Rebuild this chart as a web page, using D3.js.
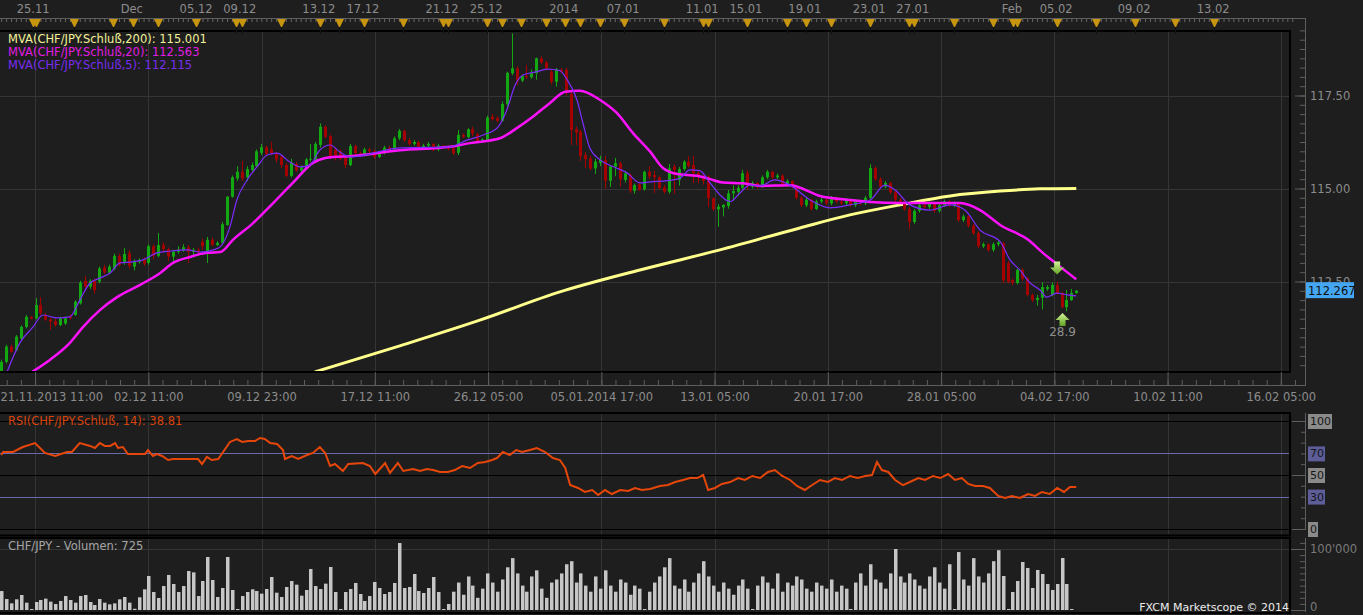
<!DOCTYPE html>
<html><head><meta charset="utf-8">
<script src="https://cdn.jsdelivr.net/npm/d3@7"></script>
<style>
html,body{margin:0;padding:0;background:#1e1e1e;overflow:hidden}
svg{display:block}
text{font-family:"DejaVu Sans",sans-serif}
</style></head><body>
<svg id="c" width="1363" height="615"></svg>
<script>
// ---------------- DATA ----------------
// candles [open, high, low, close], 6-hour bars
const ohlc = [
[110.08,110.40,110.00,110.34],[110.34,110.80,110.30,110.75],[110.75,110.80,110.58,110.61],[110.66,111.06,110.62,111.02],
[110.97,111.32,110.93,111.28],[111.28,111.60,111.24,111.55],[111.55,111.57,111.48,111.50],[111.51,112.05,111.48,111.87],
[111.87,112.08,111.60,111.65],[111.60,111.66,111.44,111.48],[111.48,111.52,111.20,111.42],[111.44,111.50,111.28,111.33],
[111.33,111.55,111.30,111.51],[111.37,111.56,111.33,111.51],[111.55,111.62,111.48,111.51],[111.60,112.00,111.58,111.96],
[111.91,112.52,111.88,112.47],[112.52,112.65,112.30,112.36],[112.36,112.56,112.30,112.52],[112.52,112.58,112.18,112.27],
[112.50,112.90,112.45,112.85],[112.88,112.95,112.70,112.74],[112.74,112.95,112.70,112.90],[112.85,113.25,112.80,113.19],
[113.19,113.25,112.90,112.94],[113.00,113.40,112.95,113.24],[113.26,113.35,112.85,112.92],[112.90,113.10,112.80,113.03],
[113.03,113.12,112.98,113.06],[113.08,113.15,112.92,112.98],[113.00,113.50,112.95,113.45],[113.45,113.50,113.10,113.19],
[113.19,113.80,113.15,113.48],[113.48,113.55,113.30,113.37],[113.37,113.42,113.05,113.17],[113.17,113.35,113.00,113.30],
[113.30,113.45,113.25,113.35],[113.35,113.50,113.30,113.42],[113.42,113.48,113.00,113.30],[113.30,113.40,113.15,113.35],
[113.35,113.42,113.20,113.30],[113.57,113.65,113.35,113.44],[113.26,113.70,113.00,113.62],[113.62,113.68,113.45,113.48],
[113.48,113.58,113.45,113.54],[113.54,114.10,113.50,114.04],[114.02,114.80,114.00,114.78],[114.78,115.35,114.75,115.30],
[115.27,115.60,115.20,115.45],[115.45,115.75,115.20,115.27],[115.30,115.60,115.20,115.52],[115.50,115.70,115.45,115.63],
[115.60,116.05,115.55,116.00],[115.96,116.20,115.90,116.11],[116.11,116.15,115.88,115.93],[116.05,116.25,115.90,115.95],
[115.93,115.98,115.70,115.78],[115.85,115.90,115.55,115.63],[115.63,115.68,115.30,115.34],[115.34,115.80,115.30,115.70],
[115.66,115.72,115.45,115.48],[115.48,115.62,115.40,115.57],[115.54,115.82,115.50,115.78],[115.78,116.20,115.72,115.80],
[115.77,116.25,115.72,116.20],[116.17,116.75,116.10,116.66],[116.66,116.70,116.35,116.39],[116.41,116.45,115.80,115.84],
[116.05,116.10,115.75,115.85],[116.00,116.05,115.75,115.80],[115.85,115.90,115.55,115.63],[115.63,116.20,115.60,116.14],
[116.14,116.18,115.90,115.95],[115.95,116.00,115.85,115.90],[115.90,116.10,115.86,116.05],[116.05,116.10,115.95,116.00],
[116.00,116.05,115.80,115.85],[115.85,116.00,115.82,115.95],[115.95,116.15,115.92,116.10],[116.10,116.15,116.00,116.05],
[116.05,116.40,116.02,116.35],[116.35,116.60,116.30,116.55],[116.55,116.58,116.25,116.30],[116.30,116.35,116.15,116.20],
[116.20,116.30,116.15,116.25],[116.25,116.28,116.05,116.10],[116.10,116.20,116.05,116.15],[116.15,116.25,116.10,116.20],
[116.20,116.22,116.00,116.05],[116.05,116.20,116.00,116.15],[116.15,116.17,116.08,116.10],[116.10,116.15,116.02,116.08],
[116.08,116.12,115.90,115.95],[115.96,116.57,115.90,116.44],[116.44,116.48,116.35,116.39],[116.38,116.62,116.35,116.59],
[116.59,116.66,116.40,116.48],[116.46,116.50,116.22,116.28],[116.28,116.36,116.24,116.32],[116.30,116.96,116.28,116.91],
[116.93,117.00,116.82,116.86],[116.89,116.95,116.78,116.82],[116.82,117.34,116.80,117.27],[117.27,118.14,117.20,118.11],
[118.10,119.17,118.05,118.23],[118.23,118.29,117.78,117.90],[117.90,118.06,117.86,118.02],[118.02,118.32,117.95,117.99],
[117.99,118.20,117.95,118.10],[118.10,118.52,117.92,118.50],[118.50,118.55,118.35,118.39],[118.39,118.42,118.18,118.23],
[118.14,118.21,117.80,117.87],[117.87,118.24,117.74,118.20],[118.19,118.24,118.10,118.14],[118.19,118.24,117.50,117.60],
[117.54,117.60,116.17,116.57],[116.60,116.67,116.17,116.50],[116.53,116.58,115.74,115.87],[115.90,115.98,115.55,115.79],
[115.81,115.88,115.49,115.54],[115.54,115.80,115.39,115.72],[115.69,115.88,115.60,115.77],[115.77,115.88,115.00,115.21],
[115.21,115.63,115.04,115.59],[115.59,115.82,115.33,115.68],[115.68,115.72,115.05,115.25],[115.23,115.46,115.16,115.41],
[115.36,115.40,114.88,114.94],[114.94,115.13,114.86,115.09],[115.12,115.16,114.94,114.96],[114.98,115.48,114.94,115.45],
[115.45,115.60,115.25,115.32],[115.36,115.48,114.88,115.30],[115.30,115.35,114.98,115.01],[115.03,115.10,114.86,114.91],
[114.91,115.66,114.86,115.54],[115.59,115.65,114.86,115.50],[115.23,115.58,115.08,115.52],[115.52,115.76,115.48,115.72],
[115.72,115.86,115.56,115.60],[115.63,115.88,115.14,115.41],[115.42,115.50,115.14,115.32],[115.32,115.38,115.10,115.21],
[115.32,115.36,114.50,114.74],[114.74,114.76,114.40,114.44],[114.44,114.58,113.97,114.51],[114.49,114.58,114.25,114.56],
[114.53,114.96,114.46,114.87],[114.87,115.08,114.68,114.93],[114.91,115.09,114.80,115.02],[115.02,115.50,114.97,115.41],
[115.41,115.50,114.97,115.05],[115.05,115.20,115.00,115.15],[115.15,115.18,115.00,115.05],[115.05,115.35,115.02,115.30],
[115.30,115.50,115.25,115.45],[115.45,115.48,115.25,115.30],[115.30,115.40,115.25,115.35],[115.35,115.38,115.05,115.10],
[115.10,115.25,115.05,115.20],[115.20,115.22,115.00,115.05],[115.05,115.08,114.70,114.75],[114.75,114.80,114.50,114.55],
[114.55,114.75,114.50,114.70],[114.70,114.72,114.40,114.45],[114.45,114.70,114.42,114.65],[114.65,114.75,114.60,114.70],
[114.70,114.72,114.55,114.60],[114.60,114.80,114.55,114.75],[114.75,114.78,114.60,114.65],[114.65,114.70,114.55,114.60],
[114.60,114.75,114.55,114.70],[114.70,114.72,114.50,114.55],[114.55,114.70,114.50,114.65],[114.65,114.68,114.55,114.60],
[114.60,114.80,114.55,114.75],[114.75,115.65,114.72,115.55],[115.55,115.60,115.20,115.25],[115.25,115.30,115.00,115.05],
[115.05,115.20,115.00,115.15],[115.15,115.18,114.85,114.90],[114.90,114.95,114.65,114.70],[114.70,114.75,114.60,114.65],
[114.65,114.70,114.40,114.45],[114.45,114.50,113.90,114.10],[114.10,114.45,114.05,114.40],[114.40,114.60,114.35,114.55],
[114.55,114.58,114.45,114.50],[114.50,114.65,114.45,114.60],[114.60,114.62,114.35,114.40],[114.40,114.60,114.35,114.55],
[114.55,114.70,114.50,114.65],[114.65,114.68,114.50,114.55],[114.55,114.65,114.50,114.60],[114.60,114.62,114.10,114.15],
[114.15,114.30,114.10,114.25],[114.25,114.28,113.95,114.00],[114.00,114.05,113.75,113.80],[113.80,113.85,113.40,113.45],
[113.45,113.55,113.40,113.50],[113.50,113.52,113.30,113.35],[113.35,113.55,113.30,113.50],[113.50,113.60,113.45,113.55],
[113.53,113.56,112.45,112.53],[113.00,113.05,112.45,112.49],[112.54,112.58,112.40,112.46],[112.46,112.85,112.42,112.81],
[112.81,112.86,112.52,112.57],[112.59,112.62,112.10,112.14],[112.14,112.18,111.95,112.00],[112.00,112.14,111.85,112.06],
[112.06,112.48,111.75,112.35],[112.30,112.40,112.25,112.35],[112.14,112.48,112.10,112.41],[112.41,112.50,112.15,112.19],
[112.19,112.22,111.78,111.81],[111.81,112.27,111.70,112.00],[112.00,112.30,111.98,112.19],[112.19,112.27,112.17,112.25]
];
// volume per bar (units)
const volume = [
31100,18000,10900,17500,24600,12000,1000,13100,16400,18600,13700,9800,14800,22900,16400,12000,22900,24600,13100,8200,
18000,12000,9300,10900,17500,21300,12000,2000,20800,33900,55700,29500,19700,39300,57400,42600,29500,39300,63900,61700,
22900,47500,86900,49200,21300,36100,86900,32800,1500,22900,29500,33900,31100,26800,34400,54100,28400,21300,37700,47500,
41500,23500,32800,67200,39300,34400,43200,70500,29500,1500,29500,34400,44300,26200,14800,22900,45900,36100,26200,29500,
44300,109800,36100,37700,59000,31100,27900,36100,54100,29500,1500,9800,
30000,45000,25000,55000,40000,20000,35000,60000,45000,30000,50000,70000,85000,60000,40000,30000,55000,65000,35000,
20000,45000,50000,60000,75000,80000,45000,60000,40000,30000,55000,35000,65000,40000,30000,50000,45000,25000,40000,35000,
1500,30000,45000,55000,70000,85000,40000,35000,50000,30000,45000,60000,80000,55000,40000,30000,45000,35000,25000,40000,
50000,35000,1500,40000,55000,45000,35000,60000,30000,45000,40000,55000,50000,35000,30000,45000,40000,35000,50000,30000,
40000,35000,1500,45000,60000,40000,75000,50000,45000,35000,60000,100000,55000,45000,60000,50000,40000,35000,55000,70000,
45000,35000,75000,1500,95000,50000,40000,85000,55000,45000,60000,80000,
98000,55700,1500,29500,47500,78700,68900,36100,65600,59000,42600,32800,42600,85200,42600,725
];
// moving averages [bar index, value]
const ma200 = [[63.9,110.07],[81.2,110.77],[97.5,111.46],[113.8,112.22],[130.1,112.81],[146.4,113.35],[162.7,113.94],
[172.9,114.29],[183.1,114.56],[193.3,114.80],[203.5,114.93],[211.6,114.99],[219,115.00]];
const ma20 = [[6.3,110.07],[9.9,110.39],[14,110.85],[16.7,111.28],[20.1,111.73],[23.6,112.08],[28.3,112.41],[32.4,112.73],
[35,113.0],[38.5,113.16],[41.9,113.27],[44.6,113.29],[47.2,113.62],[51.3,114.07],[55.4,114.61],[59.4,115.15],[63.5,115.69],
[66,115.82],[67.6,115.85],[71.1,115.87],[81.2,116.03],[91.4,116.12],[95.5,116.22],[101.6,116.35],[105.1,116.63],[108.3,116.93],
[111.8,117.30],[114.9,117.60],[117.9,117.63],[122,117.38],[125.4,117.03],[128.7,116.49],[132.2,115.99],[134.8,115.55],
[137.7,115.39],[141.7,115.34],[145,115.23],[147,115.16],[151.1,115.14],[154.6,115.07],[160.7,115.09],[166.8,114.80],
[172.9,114.69],[177,114.64],[183.1,114.61],[189.2,114.61],[195.3,114.61],[199.4,114.42],[203.5,114.02],[209.2,113.62],
[212.2,113.27],[215.3,112.94],[219,112.56]];
const ma5 = [[1.2,110.07],[3.8,110.85],[6.5,111.28],[8.5,111.60],[11.4,111.52],[14,111.55],[16,112.0],[18.1,112.46],
[20.1,112.59],[22.2,112.73],[24.2,113.0],[26.2,113.02],[28.9,113.08],[31.7,113.27],[34.4,113.32],[37.9,113.35],[40.5,113.29],
[43.2,113.35],[44.6,113.43],[46.6,113.97],[48,114.69],[50.1,115.23],[52.1,115.58],[54.2,115.90],[56.2,115.95],[58.8,115.71],
[60.9,115.58],[62.9,115.63],[64.9,116.03],[67,116.17],[69,115.98],[71.1,115.85],[81.2,116.09],[91.4,116.12],[94.9,116.30],
[98.2,116.44],[101.2,116.65],[103,117.11],[104.7,117.78],[106.3,118.05],[109.1,118.14],[111.2,118.21],[113.8,118.17],
[115.3,117.92],[117.3,117.38],[118.5,116.76],[119.9,116.09],[122,115.77],[124.6,115.59],[127.5,115.42],[130.1,115.15],
[132.2,115.18],[135.6,115.21],[138.3,115.28],[140.3,115.50],[142.3,115.48],[144.4,115.15],[146.4,114.83],[148.5,114.65],
[150.5,114.88],[152.5,115.09],[154.6,115.07],[157.6,115.23],[160.7,115.09],[164.8,114.69],[168.8,114.48],[172.9,114.56],
[177,114.69],[180,115.09],[182.1,114.96],[185.1,114.56],[189.2,114.42],[193.3,114.56],[196.3,114.42],[199.4,113.88],
[203.5,113.57],[205.5,113.08],[207.5,112.81],[209.6,112.46],[211.6,112.27],[213,112.08],[215.1,112.19],[217.1,112.14],[219,112.115]];
// RSI(14) [bar index, value]
const rsi = [[0,68.5],[0.4,71.3],[2.4,71.3],[4.4,75.9],[6.9,79.6],[8.9,70.4],[11,67.6],[13.4,71.3],[14.4,71.3],[16,79.6],
[18.1,76.9],[19.1,75.0],[20.1,79.6],[21.1,76.9],[22.2,76.9],[23.2,79.6],[23.8,75.0],[24.8,75.9],[25.8,69.4],[27.9,69.4],
[29.3,69.4],[29.9,73.1],[30.9,67.6],[31.7,69.4],[32.8,67.6],[34,63.9],[35,64.8],[37.9,64.8],[40.1,64.8],[40.9,60.2],
[41.9,66.7],[42.9,63.9],[44.2,64.8],[45.2,71.3],[46.6,80.6],[48,83.3],[49.1,80.6],[50.3,81.5],[51.7,81.5],[52.7,84.3],
[53.7,83.3],[54.8,79.6],[56.2,78.7],[57.4,73.1],[57.8,64.8],[59.2,67.6],[60.5,64.8],[62.3,68.5],[63.5,70.4],[64.9,75.9],
[66,70.4],[67,58.3],[68,60.2],[69.6,53.7],[70.7,60.2],[73.7,61.1],[75.1,58.3],[76.2,50.9],[78.2,61.1],[79.2,51.9],
[80.8,61.1],[81.9,53.7],[83.9,55.6],[85.3,53.7],[86.7,55.6],[88,54.6],[89.4,52.8],[91,52.8],
[92.4,54.6],[93.9,58.3],[95.5,56.5],[97.1,61.1],[98.6,62.0],[100,63.9],[101,65.7],[102.2,71.3],[103.6,68.5],[104.9,73.1],
[106.1,71.3],[107.7,73.1],[109.1,75.0],[110.8,71.3],[112.4,65.7],[113.8,63.9],[114.9,56.5],[115.9,40.7],[117.5,38.0],
[118.9,34.3],[120.4,36.1],[121.6,31.5],[123,36.1],[124.4,32.4],[126.1,36.1],[127.7,35.2],[129.1,38.0],[130.5,36.1],
[132.2,37.0],[134.2,39.8],[135.8,40.7],[137.3,43.5],[138.9,45.4],[140.3,47.2],[141.8,47.2],[143,50.0],[144,36.1],
[145.4,38.0],[146.8,41.7],[148.5,43.5],[150.1,47.2],[151.5,45.4],[153,49.1],[154.6,47.2],[156.2,52.8],[157.6,54.6],
[159.1,49.1],[160.7,45.4],[162.1,39.8],[163.7,36.1],[165.2,40.7],[166.8,45.4],[168.4,43.5],[169.8,47.2],[171.3,45.4],
[172.9,49.1],[174.5,47.2],[176,49.1],[177.4,50.0],[178.4,62.0],[179.4,54.6],[180.7,52.8],[182.1,45.4],[183.7,40.7],
[185.1,43.5],[186.8,47.2],[188.2,45.4],[189.8,49.1],[191.3,47.2],[192.9,50.9],[194.3,45.4],[195.7,47.2],[197,41.7],
[198.4,39.8],[200,39.8],[201.4,38.0],[203.1,30.6],[204.5,28.7],[205.9,30.6],[207.5,28.7],[209.2,32.4],[210.6,30.6],
[212,34.3],[213.6,32.4],[215.1,38.0],[216.5,34.3],[217.7,38.9],[219,38.81]];
// axes / labels
const priceTicks = [112.5, 115, 117.5];
const rsiTicks = [100, 70, 50, 30, 0];
const volTicks = [0, 100000];
const bottomLabels = ["21.11.2013 11:00","02.12 11:00","09.12 23:00","17.12 11:00","26.12 05:00","05.01.2014 17:00",
  "13.01 05:00","20.01 17:00","28.01 05:00","04.02 17:00","10.02 11:00","16.02 05:00"];
const gridIdx = [6.9,29.97,53.04,76.11,99.18,122.25,145.32,168.39,191.46,214.53,237.6,260.67];
const topLabels = ["25.11","Dec","05.12","09.12","13.12","17.12","21.12","25.12","2014","07.01","11.01","15.01","19.01",
  "23.01","27.01","Feb","05.02","09.02","13.02"];
const topLabelIdx = [6.5,26.6,39.7,48.6,64.7,73.7,89.8,98.8,114.6,126.7,142.8,151.7,163.7,176.8,185.7,205.9,214.9,230.8,246.9];
const eventIdx = [6.5,7.1,14.8,22.8,26.8,31.9,39.7,47.8,49.05,57,64.9,68.8,73.9,81.9,90,91,99,102,105.9,111,114.9,117.9,
  122,126.9,135,143,144,152,160.1,164,169,177,184.9,186,194.1,202,206.1,206.9,215.1,223,231,239.1,247.1];
const lastPrice = 112.267;
const signalDown = [[215.1, 112.85]];
const signalUp = [[216.2, 111.49, "28.9"]];
const legend = [
  {t:"MVA(CHF/JPY.Schluß,200): 115.001", c:"#f2f29a"},
  {t:"MVA(CHF/JPY.Schluß,20): 112.563", c:"#e21ce2"},
  {t:"MVA(CHF/JPY.Schluß,5): 112.115", c:"#7a2cf0"}];

// ---------------- DRAW ----------------
const svg = d3.select('#c');
const FONT = '11.5px';
const GRAY = '#8c8c8c', AXIS = '#5e5e5e', GRID = '#353535';
const x = d3.scaleLinear().domain([0, 219]).range([1.2, 1.2 + 219 * 4.909]);
const yP = d3.scaleLinear().domain([112.5, 117.5]).range([281.5, 95.5]);
const yR = d3.scaleLinear().domain([0, 100]).range([529, 421]);
const yV = d3.scaleLinear().domain([0, 100000]).range([610, 549]);

svg.append('rect').attr('width', 1363).attr('height', 615).attr('fill', '#1e1e1e');
const defs = svg.append('defs');
defs.append('clipPath').attr('id', 'cm').append('rect').attr('x', 0).attr('y', 32).attr('width', 1289).attr('height', 339);
defs.append('clipPath').attr('id', 'cr').append('rect').attr('x', 0).attr('y', 414).attr('width', 1289).attr('height', 120);
defs.append('clipPath').attr('id', 'cv').append('rect').attr('x', 0).attr('y', 539).attr('width', 1289).attr('height', 73);
const gr = defs.append('linearGradient').attr('id', 'ga').attr('x1', 0).attr('y1', 0).attr('x2', 0).attr('y2', 1);
gr.append('stop').attr('offset', '0%').attr('stop-color', '#d6f59a');
gr.append('stop').attr('offset', '100%').attr('stop-color', '#5ea322');

// vertical gridlines in all panels
[[32, 371], [414, 534], [539, 612]].forEach(([a, b]) => {
  svg.append('g').selectAll('line').data(gridIdx).join('line')
    .attr('x1', d => Math.round(x(d)) + 0.5).attr('x2', d => Math.round(x(d)) + 0.5)
    .attr('y1', a).attr('y2', b).attr('stroke', GRID);
});
svg.append('g').selectAll('line').data(priceTicks).join('line')
  .attr('x1', 0).attr('x2', 1289).attr('y1', d => Math.round(yP(d)) + 0.5).attr('y2', d => Math.round(yP(d)) + 0.5)
  .attr('stroke', GRID);
svg.append('g').selectAll('line').data([100000]).join('line')
  .attr('x1', 0).attr('x2', 1289).attr('y1', d => Math.round(yV(d)) + 0.5).attr('y2', d => Math.round(yV(d)) + 0.5)
  .attr('stroke', GRID);

// ---- main panel content ----
const gM = svg.append('g').attr('clip-path', 'url(#cm)');
const line = d3.line().x(d => x(d[0])).y(d => yP(d[1])).curve(d3.curveMonotoneX);
gM.append('path').datum(ma200).attr('d', line).attr('fill', 'none').attr('stroke', '#ffff8c').attr('stroke-width', 3);
const up = '#12a812', dn = '#a40000';
const cx = i => Math.round(x(i));
gM.append('g').selectAll('line').data(ohlc).join('line')
  .attr('x1', (d, i) => cx(i) + 0.5).attr('x2', (d, i) => cx(i) + 0.5)
  .attr('y1', d => yP(d[1])).attr('y2', d => yP(d[2]))
  .attr('stroke', d => d[3] >= d[0] ? up : dn).attr('stroke-width', 1);
gM.append('g').selectAll('rect').data(ohlc).join('rect')
  .attr('x', (d, i) => cx(i) - 1).attr('width', 3)
  .attr('y', d => Math.min(yP(d[0]), yP(d[3])))
  .attr('height', d => Math.max(1, Math.abs(yP(d[0]) - yP(d[3]))))
  .attr('fill', d => d[3] >= d[0] ? up : dn);
gM.append('path').datum(ma20).attr('d', line).attr('fill', 'none').attr('stroke', '#ff12ff').attr('stroke-width', 2.5);
gM.append('path').datum(ma5).attr('d', line).attr('fill', 'none').attr('stroke', '#7d2cff').attr('stroke-width', 1.2);

// signal arrows
signalDown.forEach(d => {
  const px = x(d[0]), py = yP(d[1]);
  gM.append('path').attr('d', `M${px-3},${py-7}h6v6h4l-7,7l-7,-7h4z`).attr('fill', 'url(#ga)');
});
signalUp.forEach(d => {
  const px = x(d[0]), py = yP(d[1]);
  gM.append('path').attr('d', `M${px-3},${py+7}h6v-6h4l-7,-7l-7,7h4z`).attr('fill', 'url(#ga)');
  gM.append('text').attr('x', px).attr('y', py + 17).attr('text-anchor', 'middle')
    .attr('fill', '#8e8e8e').style('font-size', '12px').text(d[2]);
});

// legend
svg.append('g').selectAll('text').data(legend).join('text')
  .attr('x', 8).attr('y', (d, i) => 43 + i * 13).attr('fill', d => d.c).style('font-size', FONT).text(d => d.t);

// main panel borders
svg.append('line').attr('x1', 0).attr('x2', 1291).attr('y1', 31).attr('y2', 31).attr('stroke', '#000').attr('stroke-width', 2);
svg.append('line').attr('x1', 1290).attr('x2', 1290).attr('y1', 31).attr('y2', 373).attr('stroke', '#000').attr('stroke-width', 2);
svg.append('line').attr('x1', 0).attr('x2', 1291).attr('y1', 372).attr('y2', 372).attr('stroke', '#000').attr('stroke-width', 2);

// ---- top time axis ----
const gT = svg.append('g').attr('transform', 'translate(0,18)');
gT.call(d3.axisBottom(x).tickValues(d3.range(0, 264)).tickSize(4).tickSizeOuter(0).tickFormat(''));
gT.select('.domain').remove();
gT.selectAll('line').attr('stroke', '#666');
svg.append('line').attr('x1', 0).attr('x2', 1305).attr('y1', 18.5).attr('y2', 18.5).attr('stroke', AXIS);
svg.append('g').selectAll('path').data(eventIdx).join('path')
  .attr('d', d => { const px = Math.round(x(d)) + 0.5; return `M${px-4.5},19L${px+4.5},19L${px},28Z`; })
  .attr('fill', '#c8960e');
svg.append('g').selectAll('line').data(eventIdx).join('line')
  .attr('x1', d => Math.round(x(d)) + 0.5).attr('x2', d => Math.round(x(d)) + 0.5)
  .attr('y1', 27).attr('y2', 34).attr('stroke', '#111');
svg.append('g').selectAll('text').data(topLabels).join('text')
  .attr('x', (d, i) => x(topLabelIdx[i])).attr('y', 13).attr('text-anchor', 'middle')
  .attr('fill', GRAY).style('font-size', FONT).text(d => d);

// ---- bottom time axis ----
const gi = gridIdx[1] - gridIdx[0];
const minorIdx = d3.range(-8, 300).map(j => gridIdx[0] + j * gi / 8).filter(v => x(v) >= 0 && x(v) <= 1305);
const gB1 = svg.append('g').attr('transform', 'translate(0,385)');
gB1.call(d3.axisTop(x).tickValues(minorIdx).tickSize(5).tickSizeOuter(0).tickFormat(''));
gB1.select('.domain').remove();
gB1.selectAll('line').attr('stroke', AXIS);
const gB2 = svg.append('g').attr('transform', 'translate(0,385)');
gB2.call(d3.axisTop(x).tickValues(gridIdx).tickSize(13).tickSizeOuter(0).tickFormat(''));
gB2.select('.domain').remove();
gB2.selectAll('line').attr('stroke', AXIS);
const gB3 = svg.append('g').attr('transform', 'translate(0,385)');
gB3.call(d3.axisBottom(x).tickValues(gridIdx).tickSize(0).tickPadding(8).tickFormat((d, i) => bottomLabels[i]));
gB3.select('.domain').remove();
gB3.selectAll('text').attr('fill', GRAY).style('font-size', FONT).style('font-family', '"DejaVu Sans",sans-serif');
gB3.select('.tick text').attr('text-anchor', 'start').attr('x', -x(gridIdx[0]));
svg.append('line').attr('x1', 0).attr('x2', 1305.5).attr('y1', 385.5).attr('y2', 385.5).attr('stroke', AXIS);

// ---- price axis ----
svg.append('line').attr('x1', 1305.5).attr('x2', 1305.5).attr('y1', 18).attr('y2', 386).attr('stroke', AXIS);
const minorP = d3.range(110.25, 119.3, 0.25);
const gP1 = svg.append('g').attr('transform', 'translate(1305,0)');
gP1.call(d3.axisRight(yP).tickValues(minorP).tickSize(-5).tickSizeOuter(0).tickFormat(''));
gP1.select('.domain').remove(); gP1.selectAll('line').attr('stroke', AXIS);
const gP2 = svg.append('g').attr('transform', 'translate(1305,0)');
gP2.call(d3.axisRight(yP).tickValues(priceTicks).tickSize(-10).tickPadding(5).tickFormat(d3.format('.2f')));
gP2.select('.domain').remove(); gP2.selectAll('line').attr('stroke', AXIS);
gP2.selectAll('text').attr('fill', GRAY).style('font-size', FONT).style('font-family', '"DejaVu Sans",sans-serif');
svg.append('rect').attr('x', 1306).attr('y', yP(lastPrice) - 8).attr('width', 48).attr('height', 16).attr('fill', '#45a6f2');
svg.append('text').attr('x', 1308).attr('y', yP(lastPrice) + 4.5).attr('fill', '#0e0e0e').style('font-size', FONT).text(d3.format('.3f')(lastPrice));

// ---- RSI panel ----
svg.append('line').attr('x1', 0).attr('x2', 1291).attr('y1', 413).attr('y2', 413).attr('stroke', '#000').attr('stroke-width', 2);
svg.append('g').selectAll('line').data([100, 50, 0]).join('line')
  .attr('x1', 0).attr('x2', 1290).attr('y1', d => Math.round(yR(d)) + 0.5).attr('y2', d => Math.round(yR(d)) + 0.5).attr('stroke', '#000');
svg.append('g').selectAll('line').data([70, 30]).join('line')
  .attr('x1', 0).attr('x2', 1290).attr('y1', d => Math.round(yR(d)) + 0.5).attr('y2', d => Math.round(yR(d)) + 0.5).attr('stroke', '#6a6aa8');
svg.append('line').attr('x1', 0).attr('x2', 1291).attr('y1', 535.5).attr('y2', 535.5).attr('stroke', '#000').attr('stroke-width', 2);
svg.append('line').attr('x1', 1290).attr('x2', 1290).attr('y1', 413).attr('y2', 536).attr('stroke', '#000').attr('stroke-width', 2);
const gRl = svg.append('g').attr('clip-path', 'url(#cr)');
gRl.append('path').datum(rsi).attr('d', d3.line().x(d => x(d[0])).y(d => yR(d[1])))
  .attr('fill', 'none').attr('stroke', '#e6460a').attr('stroke-width', 2);
svg.append('text').attr('x', 8).attr('y', 425).attr('fill', '#d8440c').style('font-size', FONT).text('RSI(CHF/JPY.Schluß, 14): 38.81');
svg.append('line').attr('x1', 1305.5).attr('x2', 1305.5).attr('y1', 413).attr('y2', 530).attr('stroke', AXIS);
const gR1 = svg.append('g').attr('transform', 'translate(1305,0)');
gR1.call(d3.axisRight(yR).tickValues(d3.range(0, 101, 10)).tickSize(-4).tickSizeOuter(0).tickFormat(''));
gR1.select('.domain').remove(); gR1.selectAll('line').attr('stroke', AXIS);
const gR2 = svg.append('g').attr('transform', 'translate(1305,0)');
gR2.call(d3.axisRight(yR).tickValues([100, 50, 0]).tickSize(-13).tickSizeOuter(0).tickFormat(''));
gR2.select('.domain').remove(); gR2.selectAll('line').attr('stroke', AXIS);
const gR3 = svg.append('g').attr('transform', 'translate(1305,0)');
gR3.call(d3.axisRight(yR).tickValues(rsiTicks).tickSize(0).tickPadding(5).tickFormat(d3.format('d')));
gR3.select('.domain').remove();
gR3.selectAll('.tick').each(function(d) {
  const t = d3.select(this).select('text').attr('fill', '#151515').style('font-size', '11px').style('font-family', '"DejaVu Sans",sans-serif');
  const w = t.node().getComputedTextLength();
  d3.select(this).insert('rect', 'text').attr('x', 3).attr('y', -7.5).attr('width', w + 3).attr('height', 15)
    .attr('fill', (d === 70 || d === 30) ? '#5d5d99' : '#8a8a8a');
});

// ---- volume panel ----
svg.append('line').attr('x1', 0).attr('x2', 1291).attr('y1', 538).attr('y2', 538).attr('stroke', '#000').attr('stroke-width', 2);
svg.append('line').attr('x1', 0).attr('x2', 1291).attr('y1', 613).attr('y2', 613).attr('stroke', '#000').attr('stroke-width', 2);
svg.append('line').attr('x1', 1290).attr('x2', 1290).attr('y1', 537).attr('y2', 614).attr('stroke', '#000').attr('stroke-width', 2);
const gV = svg.append('g').attr('clip-path', 'url(#cv)');
gV.selectAll('rect').data(volume).join('rect')
  .attr('x', (d, i) => cx(i) - 1).attr('width', 3.5)
  .attr('y', d => Math.min(yV(d), yV(0) - 1)).attr('height', d => Math.max(1, yV(0) - yV(d)))
  .attr('fill', '#c6c6c6');
svg.append('text').attr('x', 8).attr('y', 550).attr('fill', '#a6a6a6').style('font-size', FONT).text('CHF/JPY - Volumen: 725');
svg.append('text').attr('x', 1289).attr('y', 611).attr('text-anchor', 'end').attr('fill', '#ececec').style('font-size', '11px').text('FXCM Marketscope © 2014');
svg.append('line').attr('x1', 1305.5).attr('x2', 1305.5).attr('y1', 538).attr('y2', 612).attr('stroke', AXIS);
const gV1 = svg.append('g').attr('transform', 'translate(1305,0)');
gV1.call(d3.axisRight(yV).tickValues(d3.range(0, 120000, 10000)).tickSize(-5).tickSizeOuter(0).tickFormat(''));
gV1.select('.domain').remove(); gV1.selectAll('line').attr('stroke', AXIS);
const gV2 = svg.append('g').attr('transform', 'translate(1305,0)');
gV2.call(d3.axisRight(yV).tickValues(volTicks).tickSize(-14).tickPadding(5).tickSizeOuter(0).tickFormat(d => d === 0 ? '0' : "100'000"));
gV2.select('.domain').remove(); gV2.selectAll('line').attr('stroke', AXIS);
gV2.selectAll('text').attr('fill', '#7a7a7a').style('font-size', FONT).style('font-family', '"DejaVu Sans",sans-serif');
gV2.selectAll('.tick').filter(d => d === 0).select('text').attr('dy', '0.05em');
</script></body></html>
